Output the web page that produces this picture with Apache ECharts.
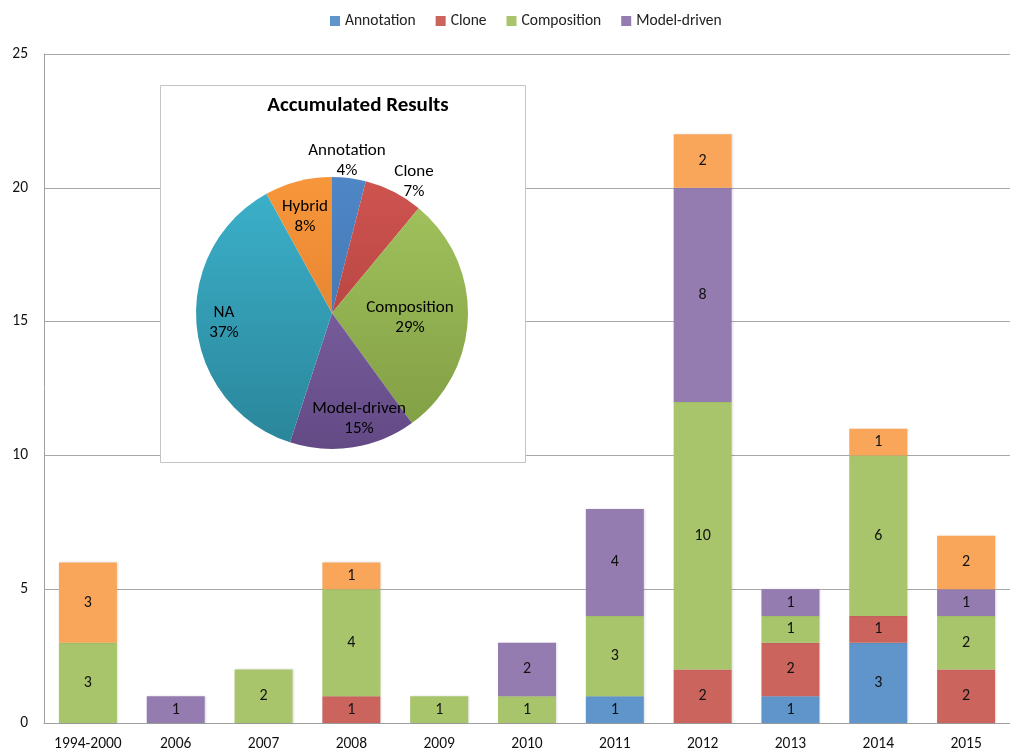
<!DOCTYPE html>
<html>
<head>
<meta charset="utf-8">
<script src="https://cdn.jsdelivr.net/npm/echarts@6/dist/echarts.min.js"></script>
<style>
  html, body { margin: 0; padding: 0; background: #fff; overflow: hidden; }
  #chart { width: 1010px; height: 754px; }
</style>
</head>
<body>
<div id="chart"></div>
<script>
// Publications per period, stacked by approach
var periods = ['1994-2000', '2006', '2007', '2008', '2009', '2010', '2011', '2012', '2013', '2014', '2015'];
var annotation  = [0, 0, 0, 0, 0, 0, 1, 0, 1, 3, 0];
var clone       = [0, 0, 0, 1, 0, 0, 0, 2, 2, 1, 2];
var composition = [3, 0, 2, 4, 1, 1, 3, 10, 1, 6, 2];
var modelDriven = [0, 1, 0, 0, 0, 2, 4, 8, 1, 0, 1];
var hybrid      = [3, 0, 0, 1, 0, 0, 0, 2, 0, 1, 2];

var yTicks = { min: 0, max: 25, step: 5 };

// Accumulated share of each approach (percent)
var pieNames  = ['Annotation', 'Clone', 'Composition', 'Model-driven', 'NA', 'Hybrid'];
var pieShares = [4, 7, 29, 15, 37, 8];

var FONT = 'Carlito, Lato, "Open Sans", sans-serif';

var barColors = {
  'Annotation': '#5f95cb',
  'Clone': '#cc645e',
  'Composition': '#a8c56b',
  'Model-driven': '#947cb0',
  'Hybrid': '#f9a65a'
};

// two-tone shading for pie slices (light at top, dark at bottom)
var pieTones = {
  'Annotation':   ['#4f86c6', '#3a6ea8'],
  'Clone':        ['#cf5450', '#a53a37'],
  'Composition':  ['#a4c55f', '#7f9c42'],
  'Model-driven': ['#8a6db0', '#634a85'],
  'NA':           ['#3cb2cc', '#2a8599'],
  'Hybrid':       ['#f7963a', '#d9782a']
};

// where each pie label sits, as an offset from the pie centre
var pieLabelOffset = {
  'Annotation':   [15, -152],
  'Clone':        [82, -131],
  'Composition':  [78, 5],
  'Model-driven': [27, 106],
  'NA':           [-108, 10],
  'Hybrid':       [-27, -96]
};

var pieCenter = [332, 313];
var pieRadius = 136;

function barSeries(name, values) {
  return {
    name: name,
    type: 'bar',
    stack: 'total',
    barWidth: 58,
    data: values.map(function (v) { return v === 0 ? null : v; }),
    itemStyle: {
      color: barColors[name],
      shadowColor: 'rgba(0,0,0,0.12)',
      shadowBlur: 2,
      shadowOffsetX: 1
    },
    label: {
      show: true,
      position: 'inside',
      color: '#111',
      fontFamily: FONT,
      fontSize: 16
    },
    emphasis: { disabled: true }
  };
}

var pieData = pieNames.map(function (name, i) {
  return {
    name: name,
    value: pieShares[i],
    itemStyle: {
      color: {
        type: 'linear', global: true,
        x: 0, y: pieCenter[1] - pieRadius, x2: 0, y2: pieCenter[1] + pieRadius,
        colorStops: [
          { offset: 0, color: pieTones[name][0] },
          { offset: 1, color: pieTones[name][1] }
        ]
      }
    }
  };
});

var chart = echarts.init(document.getElementById('chart'), null, { renderer: 'canvas' });

chart.setOption({
  animation: false,
  backgroundColor: '#ffffff',
  textStyle: { fontFamily: FONT },
  legend: {
    data: ['Annotation', 'Clone', 'Composition', 'Model-driven'],
    top: 8,
    left: 325,
    icon: 'rect',
    itemWidth: 10,
    itemHeight: 10,
    itemGap: 20,
    textStyle: { fontFamily: FONT, fontSize: 15.5, color: '#222' }
  },
  title: {
    text: 'Accumulated Results',
    left: 353,
    top: 90,
    textAlign: 'center',
    textStyle: { fontFamily: FONT, fontSize: 21, fontWeight: 'bold', color: '#000' }
  },
  // the plot runs a little past the right edge of the canvas
  grid: { left: 44, width: 973.5, top: 54, bottom: 31, containLabel: false },
  xAxis: {
    type: 'category',
    data: periods,
    axisLine: { lineStyle: { color: '#a0a0a0', width: 1 } },
    axisTick: { show: false },
    axisLabel: { color: '#111', fontFamily: FONT, fontSize: 15.5, margin: 13, interval: 0 }
  },
  yAxis: {
    type: 'value',
    min: yTicks.min,
    max: yTicks.max,
    interval: yTicks.step,
    axisLine: { show: true, lineStyle: { color: '#a0a0a0', width: 1 } },
    axisTick: { show: false },
    axisLabel: { color: '#111', fontFamily: FONT, fontSize: 15.5, margin: 16 },
    splitLine: { show: true, lineStyle: { color: '#a8a8a8', width: 1 } }
  },
  graphic: [{
    type: 'rect',
    z: 1,
    shape: { x: 160.5, y: 85.5, width: 365, height: 377 },
    style: { fill: '#ffffff', stroke: '#c4c4c4', lineWidth: 1 }
  }],
  series: [
    barSeries('Annotation', annotation),
    barSeries('Clone', clone),
    barSeries('Composition', composition),
    barSeries('Model-driven', modelDriven),
    barSeries('Hybrid', hybrid),
    {
      name: 'Accumulated Results',
      type: 'pie',
      z: 5,
      center: pieCenter,
      radius: [0, pieRadius],
      startAngle: 90,
      clockwise: true,
      avoidLabelOverlap: false,
      data: pieData,
      label: {
        show: true,
        position: 'center',
        formatter: '{b}\n{d}%',
        color: '#000',
        fontFamily: FONT,
        fontSize: 17,
        lineHeight: 20
      },
      labelLayout: function (params) {
        var off = pieLabelOffset[pieNames[params.dataIndex]];
        return {
          x: pieCenter[0] + off[0],
          y: pieCenter[1] + off[1],
          align: 'center',
          verticalAlign: 'middle',
          hideOverlap: false,
          moveOverlap: null
        };
      },
      labelLine: { show: false },
      itemStyle: { borderWidth: 0 },
      emphasis: { disabled: true }
    }
  ]
});
</script>
</body>
</html>
